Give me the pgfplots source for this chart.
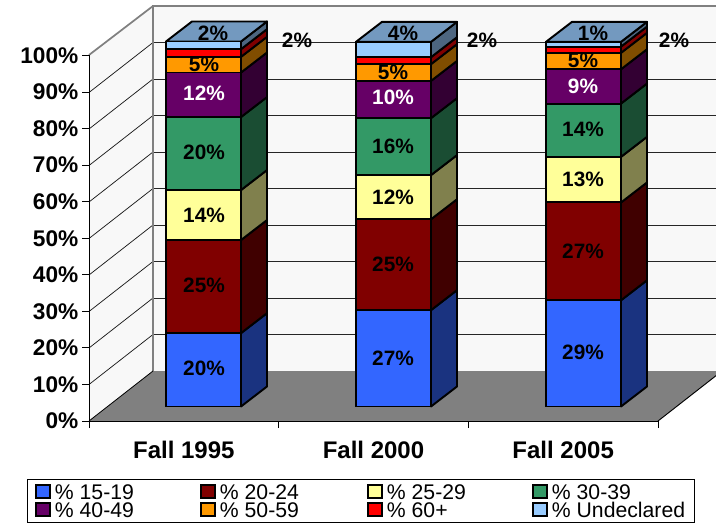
\documentclass[border=0pt]{standalone}
\usepackage{pgfplots}
\pgfplotsset{compat=1.18}
\usepackage{pgfplotstable}
\usepackage{fontspec}
\setmainfont{Liberation Sans}
\definecolor{cA}{HTML}{3366FF}\definecolor{cAs}{HTML}{1A3380}
\definecolor{cB}{HTML}{800000}\definecolor{cBs}{HTML}{400000}
\definecolor{cC}{HTML}{FFFF99}\definecolor{cCs}{HTML}{80804D}
\definecolor{cD}{HTML}{339966}\definecolor{cDs}{HTML}{1A4D33}
\definecolor{cE}{HTML}{660066}\definecolor{cEs}{HTML}{330033}
\definecolor{cF}{HTML}{FF9900}\definecolor{cFs}{HTML}{804D00}
\definecolor{cG}{HTML}{FF0000}\definecolor{cGs}{HTML}{800000}
\definecolor{cH}{HTML}{99CCFF}\definecolor{cHs}{HTML}{4D6680}
\definecolor{cTop}{HTML}{7399BF}
\definecolor{wallc}{HTML}{F8F8F8}
\definecolor{floorc}{HTML}{808080}
\pgfplotstableread{
x a b c d e f g h
203.5 20.1 25.5 13.7 20.0 12.2 4.3 2.1 2.1
393.5 26.4 24.9 12.1 15.6 10.2 4.6 1.9 4.2
583.5 29.1 26.8 12.5 14.6 9.4 4.5 1.7 1.3
}\datatab
\newlength{\pxu}\setlength{\pxu}{0.75pt}
% side face: x, low %, high %, colour
\newcommand\sideface[4]{%
 \pgfmathsetmacro\xa{#1+26}\pgfmathsetmacro\ya{#2+5.48}\pgfmathsetmacro\yb{#3+5.48}%
 \edef\tmp{\noexpand\addplot[fill=#4,draw=black,line width=1.45pt,line join=round] coordinates {(#1,#2)(\xa,\ya)(\xa,\yb)(#1,#3)} --cycle;}\tmp}
\newcommand\topface[2]{%
 \pgfmathsetmacro\xl{#1-75}\pgfmathsetmacro\xb{#1+26}\pgfmathsetmacro\xc{#1-49}\pgfmathsetmacro\yb{#2+5.48}%
 \edef\tmp{\noexpand\addplot[fill=cTop,draw=black,line width=1.45pt,line join=round] coordinates {(\xl,#2)(#1,#2)(\xb,\yb)(\xc,\yb)} --cycle;}\tmp}
\newcommand\barsides[9]{%
 \sideface{#1}{0}{#2}{cAs}\sideface{#1}{#2}{#3}{cBs}\sideface{#1}{#3}{#4}{cCs}\sideface{#1}{#4}{#5}{cDs}%
 \sideface{#1}{#5}{#6}{cEs}\sideface{#1}{#6}{#7}{cFs}\sideface{#1}{#7}{#8}{cGs}\sideface{#1}{#8}{#9}{cHs}\topface{#1}{#9}}
\pgfplotsset{canvas/.style={at={(0,0)},anchor=south west,scale only axis,width=716\pxu,height=525\pxu,hide axis,xmin=0,xmax=716}}
\newcommand\lent[2][102pt]{\makebox[#1][l]{\hspace{1.5pt}#2}}
\begin{document}
\begin{tikzpicture}[x=1pt,y=1pt]
\useasboundingbox (0,0) rectangle (537pt,393.75pt);
% walls and floor, in pixel coordinates
\begin{axis}[canvas,ymin=0,ymax=525,y dir=reverse]
\addplot[fill=wallc,draw=none] coordinates {(89,421)(89,55)(153,6)(153,371)} --cycle;
\addplot[fill=wallc,draw=none] coordinates {(153,6)(722,6)(722,371)(153,371)} --cycle;
\addplot[fill=floorc,draw=none] coordinates {(89,421)(658,421)(722,371)(153,371)} --cycle;
\pgfplotsinvokeforeach{1,...,9}{
 \pgfmathsetmacro\yy{371-36.5*#1}\pgfmathsetmacro\yl{421-36.5*#1}
 \edef\tmp{\noexpand\addplot[draw=black!85,line width=0.6pt] coordinates {(153,\yy)(722,\yy)};
 \noexpand\addplot[draw=black!90,line width=0.55pt] coordinates {(89,\yl)(153,\yy)};}\tmp
}
\addplot[draw=floorc,line width=2pt] coordinates {(153,371)(153,6)(722,6)};
\addplot[draw=floorc,line width=1.3pt] coordinates {(89,55)(153,6)};
\addplot[draw=black,line width=0.6pt] coordinates {(89,421)(153,371)};
\addplot[draw=black,line width=0.7pt] coordinates {(658,421)(722,371)};
\end{axis}
% real axis with ticks
\begin{axis}[at={(89\pxu,104\pxu)},anchor=south west,scale only axis,width=569\pxu,height=365.5\pxu,
 xmin=0,xmax=3,ymin=0,ymax=100,axis lines=left,axis line style={-,black,line width=0.7pt},
 tick align=outside,tick style={black,line width=0.7pt},
 major tick length=7\pxu,
 ytick={0,10,...,100},yticklabels={0\%,10\%,20\%,30\%,40\%,50\%,60\%,70\%,80\%,90\%,100\%},
 xtick={0.5,1.5,2.5},xticklabels={Fall 1995,Fall 2000,Fall 2005},
 minor xtick={0,1,2,3},minor tick length=7\pxu,
 x tick style={draw=none},minor x tick style={black,line width=0.7pt,draw=black},
 yticklabel style={font=\fontsize{17pt}{18pt}\selectfont\bfseries,black,xshift=1\pxu},
 xticklabel style={font=\fontsize{18pt}{19pt}\selectfont\bfseries,black,yshift=-8\pxu},
 clip=false]
\end{axis}
% bar sides and tops
\begin{axis}[canvas,ymin=-32.466,ymax=111.37]
\barsides{241}{20.1}{45.6}{59.3}{79.3}{91.5}{95.8}{97.9}{100}
\barsides{431}{26.4}{51.3}{63.4}{79}{89.2}{93.8}{95.7}{99.9}
\barsides{621}{29.1}{55.9}{68.4}{83}{92.4}{96.9}{98.6}{99.9}
\end{axis}
% front faces
\begin{axis}[canvas,ymin=-32.466,ymax=111.37,ybar stacked,bar width=75\pxu,
 legend columns=4,
 legend image code/.code={\draw[#1,line width=1.25pt] (0,-4.5pt) rectangle (10.5pt,5.5pt);},
 legend style={at={(27.5/716,2/525)},anchor=south west,draw=black,line width=0.7pt,fill=white,
   font=\fontsize{15.9pt}{15.9pt}\selectfont,row sep=-1pt,inner xsep=5.5pt,inner ysep=2pt,
   nodes={inner sep=1.5pt,text depth=0pt,text height=11.5pt},
   /tikz/every even column/.append style={column sep=7pt}},
 legend cell align=left]
\addplot[fill=cA,draw=black,line width=1.45pt] table[x=x,y=a]{\datatab};
\addlegendentry{\lent{\% 15-19}}
\addplot[fill=cB,draw=black,line width=1.45pt] table[x=x,y=b]{\datatab};
\addlegendentry{\lent[103.5pt]{\% 20-24}}
\addplot[fill=cC,draw=black,line width=1.45pt] table[x=x,y=c]{\datatab};
\addlegendentry{\lent{\% 25-29}}
\addplot[fill=cD,draw=black,line width=1.45pt] table[x=x,y=d]{\datatab};
\addlegendentry{\hspace{1.5pt}\% 30-39}
\addplot[fill=cE,draw=black,line width=1.45pt] table[x=x,y=e]{\datatab};
\addlegendentry{\lent{\% 40-49}}
\addplot[fill=cF,draw=black,line width=1.45pt] table[x=x,y=f]{\datatab};
\addlegendentry{\lent[103.5pt]{\% 50-59}}
\addplot[fill=cG,draw=black,line width=1.45pt] table[x=x,y=g]{\datatab};
\addlegendentry{\lent{\% 60+}}
\addplot[fill=cH,draw=black,line width=1.45pt] table[x=x,y=h]{\datatab};
\addlegendentry{\hspace{1.5pt}\% Undeclared\hspace{-20.5pt}}
\end{axis}
% labels in pixel coordinates
\begin{axis}[canvas,ymin=0,ymax=525,y dir=reverse,clip=false,
  nodes={font=\fontsize{15.6pt}{17pt}\selectfont\bfseries,inner sep=0pt}]
\node at (axis cs:204,368) {20\%};
\node at (axis cs:204,285) {25\%};
\node at (axis cs:204,215) {14\%};
\node at (axis cs:204,152) {20\%};
\node[text=white] at (axis cs:204,93) {12\%};
\node at (axis cs:204,64) {5\%};
\node at (axis cs:213,33) {2\%};
\node at (axis cs:297,40) {2\%};
\node at (axis cs:393,358) {27\%};
\node at (axis cs:393,264) {25\%};
\node at (axis cs:393,197) {12\%};
\node at (axis cs:393,146) {16\%};
\node[text=white] at (axis cs:393,97) {10\%};
\node at (axis cs:393,72) {5\%};
\node at (axis cs:403,33) {4\%};
\node at (axis cs:482,40) {2\%};
\node at (axis cs:583,352) {29\%};
\node at (axis cs:583,251) {27\%};
\node at (axis cs:583,179) {13\%};
\node at (axis cs:583,129) {14\%};
\node[text=white] at (axis cs:583,86) {9\%};
\node at (axis cs:583,60) {5\%};
\node at (axis cs:593,33) {1\%};
\node at (axis cs:674,40) {2\%};
\end{axis}
\end{tikzpicture}
\end{document}
